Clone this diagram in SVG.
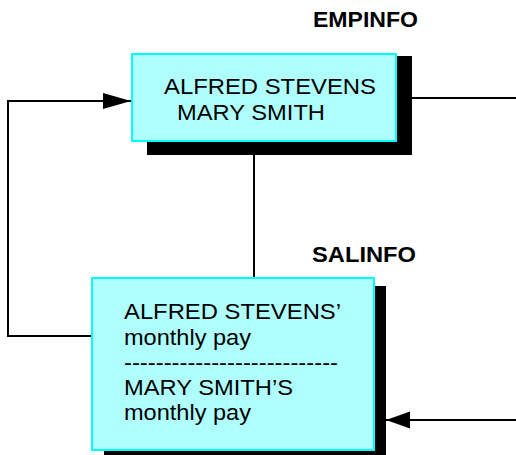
<svg xmlns="http://www.w3.org/2000/svg" width="516" height="455" viewBox="0 0 516 455">
  <style>
    .box { fill: #b0ffff; stroke: #00ffff; stroke-width: 2; }
    .shadow { fill: #000000; }
    .txt { font-family: "Liberation Sans", Arial, sans-serif; font-size: 22px; fill: #000000; }
    .title { font-family: "Liberation Sans", Arial, sans-serif; font-size: 22px; font-weight: bold; fill: #000000; }
    .line { fill: none; stroke: #000000; stroke-width: 2; }
  </style>
  <defs>
    <marker id="arrow" markerUnits="userSpaceOnUse" markerWidth="28" markerHeight="18" refX="28" refY="9" orient="auto">
      <path d="M0,1 L28,9 L0,17 Z" fill="#000000"/>
    </marker>
    <marker id="arrowSmall" markerUnits="userSpaceOnUse" markerWidth="24" markerHeight="18" refX="24" refY="9" orient="auto">
      <path d="M0,0.5 L24,9 L0,17.5 Z" fill="#000000"/>
    </marker>
  </defs>

  <!-- connectors -->
  <g id="connectors">
    <polyline class="line" points="92,336 8,336 8,101 131,101" marker-end="url(#arrow)"/>
    <line class="line" x1="254" y1="155" x2="254" y2="278"/>
    <line class="line" x1="412" y1="98" x2="516" y2="98"/>
    <line class="line" x1="516" y1="420" x2="386" y2="420" marker-end="url(#arrowSmall)"/>
  </g>

  <!-- EMPINFO record -->
  <g id="empinfo">
    <text class="title" x="313" y="27" textLength="105" lengthAdjust="spacingAndGlyphs">EMPINFO</text>
    <rect class="shadow" x="147" y="56" width="265" height="99"/>
    <rect class="box" x="132" y="54" width="264" height="87"/>
    <text class="txt" x="164" y="94" textLength="212" lengthAdjust="spacingAndGlyphs">ALFRED STEVENS</text>
    <text class="txt" x="177" y="120" textLength="148" lengthAdjust="spacingAndGlyphs">MARY SMITH</text>
  </g>

  <!-- SALINFO record -->
  <g id="salinfo">
    <text class="title" x="312" y="262" textLength="104" lengthAdjust="spacingAndGlyphs">SALINFO</text>
    <rect class="shadow" x="104" y="286" width="282" height="172"/>
    <rect class="box" x="92" y="278" width="282" height="172"/>
    <text class="txt" x="124" y="319" textLength="217" lengthAdjust="spacingAndGlyphs">ALFRED STEVENS’</text>
    <text class="txt" x="124" y="345" textLength="127" lengthAdjust="spacingAndGlyphs">monthly pay</text>
    <text class="txt" x="124" y="370" textLength="214" lengthAdjust="spacingAndGlyphs">---------------------------</text>
    <text class="txt" x="124" y="395" textLength="169" lengthAdjust="spacingAndGlyphs">MARY SMITH’S</text>
    <text class="txt" x="124" y="420" textLength="127" lengthAdjust="spacingAndGlyphs">monthly pay</text>
  </g>
</svg>
